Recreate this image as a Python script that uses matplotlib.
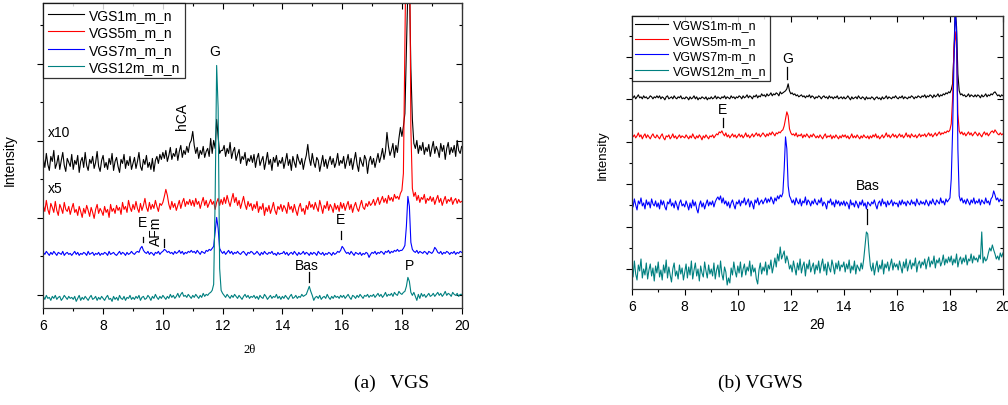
import numpy as np
import matplotlib.pyplot as plt

plt.rcParams['font.family'] = ['Liberation Sans', 'DejaVu Sans']

# 2-theta grid, 0.05 deg step (one row below = 1 deg)
theta = np.linspace(6, 20, 281)

# ---- (a) VGS, intensities (arbitrary units) ----
vgs1 = [150,141,155,144,138,152,147,158,140,145,153,139,148,156,143,137,150,146,142,154,
        139,148,144,153,136,147,151,141,156,143,138,149,145,152,140,146,157,142,137,148,
        153,141,146,139,150,144,155,138,147,151,142,136,149,145,154,140,148,143,152,139,
        145,151,140,147,156,142,138,149,144,153,141,146,139,150,137,148,152,145,154,149,
        156,150,158,147,153,161,149,155,152,160,148,157,163,151,158,154,162,156,165,168,
        177,163,155,161,150,158,154,162,151,157,160,152,170,155,168,160,189,172,155,158,
        158,163,152,160,155,166,150,157,161,148,154,159,145,152,149,156,143,150,147,153,
        146,154,141,150,155,143,148,152,139,147,156,144,149,138,151,146,153,142,148,145,
        151,140,147,155,143,149,138,152,146,141,154,148,144,150,139,147,153,164,150,143,
        155,146,141,151,148,137,145,153,142,149,140,147,152,144,150,141,146,155,143,148,
        145,152,140,147,154,143,150,139,148,156,144,137,151,146,142,153,149,135,147,152,
        144,150,141,148,155,146,152,160,149,157,176,162,153,158,165,151,163,156,170,181,
        172,182,195,260,320,330,240,189,165,160,168,155,163,158,166,154,161,157,164,152,
        160,167,155,162,158,151,165,157,163,149,160,166,154,161,156,163,152,168,158,155,
        162]
vgs5 = [103,97,108,99,94,105,101,96,107,98,93,104,100,95,106,99,97,102,94,100,
        105,96,99,93,102,97,91,100,95,103,98,92,101,96,90,99,104,95,100,97,
        93,102,96,99,91,104,97,100,95,103,98,101,94,106,99,102,96,108,101,97,
        104,99,107,100,96,105,98,103,110,101,97,106,99,104,100,108,102,97,105,103,
        106,112,119,113,104,99,107,101,105,98,103,108,100,106,110,102,107,104,109,103,
        108,102,110,104,107,100,106,111,103,108,101,105,109,104,107,99,106,110,103,109,
        104,111,105,113,107,102,109,115,106,111,103,108,100,106,112,104,99,107,102,105,
        98,104,100,107,96,102,99,105,93,101,97,103,95,100,106,98,94,102,99,104,
        97,103,100,95,106,99,102,96,104,98,93,101,105,97,100,94,103,99,107,101,
        104,99,106,101,97,108,102,95,103,100,107,98,104,101,96,105,99,103,97,106,
        100,105,98,103,107,99,104,96,102,106,100,97,103,108,101,99,105,102,107,103,
        105,109,103,107,111,104,108,112,106,110,105,113,108,111,107,114,110,112,109,115,
        118,135,260,400,400,400,180,120,112,116,108,113,106,111,109,114,105,110,108,112,
        107,111,104,109,113,106,110,103,108,112,105,109,107,111,104,108,110,105,109,106,
        107]
vgs7 = [56,54,57,55,53,56,54,57,55,53,56,55,54,57,53,55,56,54,55,53,
        55,57,54,56,53,55,54,56,55,53,57,54,55,56,53,55,54,56,53,55,
        54,56,55,53,57,54,55,56,54,53,55,57,54,56,55,53,56,54,55,57,
        55,54,56,57,56,60,62,58,56,55,57,54,56,55,53,56,55,57,54,56,
        57,59,58,56,57,55,56,54,57,55,56,58,55,57,54,56,55,57,56,58,
        56,57,55,58,56,54,57,56,55,58,57,59,58,60,62,76,91,80,60,57,
        55,57,54,56,58,55,57,54,56,55,57,55,54,56,57,55,53,56,55,57,
        56,54,55,57,55,53,56,54,57,55,54,56,55,57,54,55,53,56,54,55,
        55,57,54,56,53,55,56,54,57,55,53,56,54,55,57,54,56,55,53,56,
        54,56,55,53,57,55,54,56,53,55,54,56,55,53,56,54,55,57,56,58,
        62,60,57,55,56,54,57,55,53,56,55,54,56,53,55,54,56,55,51,54,
        56,55,57,54,56,55,57,56,54,57,56,58,55,57,56,58,57,59,57,58,
        58,60,63,82,112,102,66,59,57,56,58,55,57,56,55,57,56,54,57,56,
        55,57,61,59,56,55,57,54,56,55,57,56,54,56,55,57,54,56,55,57,
        56]
vgs12 = [12,9,13,10,11,8,12,10,13,9,11,12,8,10,13,11,9,12,10,11,
         9,12,7,10,13,8,11,9,12,10,8,11,13,9,10,12,8,11,9,12,
         10,8,11,13,9,10,7,12,9,11,8,13,10,9,12,8,11,10,13,9,
         11,9,12,10,13,8,11,12,9,10,13,11,8,12,10,14,11,9,12,10,
         13,11,9,12,10,14,11,13,10,12,15,11,14,16,12,13,11,14,12,10,
         13,11,14,12,10,13,11,15,12,14,13,15,16,18,24,110,243,200,40,18,
         15,13,11,14,12,10,13,11,14,12,10,13,11,9,12,14,11,13,10,12,
         11,13,10,12,9,13,11,10,14,12,9,11,13,10,12,11,14,10,12,9,
         12,10,13,11,9,12,14,10,11,13,10,12,11,14,12,13,14,18,22,17,
         13,8,11,12,10,13,9,11,12,10,14,11,9,12,10,13,11,12,10,13,
         11,13,10,12,14,11,9,13,12,10,13,11,14,12,10,13,12,14,11,13,
         12,14,11,13,15,12,14,11,13,16,12,14,13,15,12,16,14,13,17,15,
         14,16,17,22,31,27,16,13,16,12,8,14,10,15,12,14,11,13,15,12,
         13,15,12,14,16,13,15,12,14,17,13,15,14,12,16,14,13,15,12,14,
         14]

# ---- (b) VGWS ----
vgws1 = [192,191,193,190,192,194,191,192,190,193,191,192,190,191,193,192,190,192,191,193,
         191,193,190,192,191,189,192,193,190,191,192,190,193,191,190,192,191,193,190,191,
         190,192,191,189,192,190,191,193,190,192,189,191,190,192,191,190,192,189,191,190,
         192,190,191,193,190,192,191,190,192,191,193,190,192,191,190,193,191,192,190,192,
         191,193,192,190,193,191,192,194,191,193,192,190,193,192,194,191,193,192,195,193,
         194,192,195,193,194,196,193,195,194,196,195,193,197,195,196,197,198,200,205,198,
         195,196,194,195,193,194,192,193,194,192,193,191,193,192,194,191,193,192,190,192,
         191,193,192,190,192,193,191,192,190,193,191,192,190,192,191,193,190,191,192,190,
         192,190,191,193,191,189,192,190,191,192,190,193,191,190,192,191,189,192,190,191,
         190,192,191,189,191,192,190,191,189,192,190,191,193,190,192,191,190,192,191,193,
         191,190,192,191,193,190,192,191,190,192,191,193,192,190,192,191,193,192,191,193,
         192,194,191,193,192,194,193,191,194,192,193,195,192,194,193,195,194,196,195,197,
         196,199,205,235,280,262,215,198,194,195,193,194,192,193,195,192,194,193,192,194,
         192,194,193,191,194,192,193,195,192,194,193,195,194,196,197,195,193,194,192,194,
         193]
vgws5 = [155,152,154,151,153,156,152,154,150,153,155,151,154,152,150,153,155,152,151,154,
         152,150,153,155,151,149,153,152,154,150,152,155,151,153,150,152,154,151,153,152,
         151,154,152,150,153,151,155,152,150,153,151,154,152,149,153,151,154,152,150,153,
         152,154,151,153,155,154,157,156,158,155,153,156,152,154,151,153,155,152,154,151,
         153,155,152,154,151,153,156,152,154,151,153,155,152,154,156,153,155,152,154,156,
         154,152,155,153,156,154,157,155,153,156,155,157,156,158,159,163,170,177,173,160,
         156,154,155,153,156,152,154,153,155,151,154,152,155,153,151,154,152,155,153,151,
         153,151,154,152,150,153,155,151,153,152,154,150,153,151,154,152,150,153,151,154,
         152,154,151,153,150,152,155,151,153,151,154,152,150,153,151,154,152,151,153,150,
         153,151,154,152,155,151,153,150,152,154,151,153,156,152,154,151,153,155,152,154,
         151,153,155,152,154,151,153,156,152,154,151,155,153,152,154,151,153,155,152,154,
         153,155,152,154,156,153,155,152,154,156,153,155,157,154,156,155,157,156,158,157,
         159,165,190,240,257,240,175,158,155,157,154,156,153,155,157,154,156,153,155,157,
         155,153,156,154,152,155,157,154,156,153,155,157,158,156,159,157,155,154,156,154,
         155]
vgws7 = [87,82,90,84,79,88,85,91,83,86,80,89,84,87,81,90,85,83,88,82,
         86,80,89,84,88,82,79,87,85,90,83,86,81,88,84,79,86,89,83,85,
         82,88,84,79,86,81,89,83,87,80,76,84,88,82,86,80,85,89,83,87,
         84,88,82,87,90,92,89,93,86,91,85,88,83,87,81,86,89,84,80,87,
         85,89,83,88,86,91,84,87,90,82,88,85,80,89,86,91,84,87,89,85,
         88,91,86,90,87,92,89,85,91,88,93,90,94,92,96,120,152,140,103,93,
         90,86,89,84,91,87,85,90,83,88,86,92,84,89,87,83,88,85,90,86,
         84,89,86,91,83,87,85,80,88,86,90,84,87,82,89,85,88,83,87,84,
         88,83,87,85,80,89,84,86,82,88,85,81,87,84,89,83,86,80,87,85,
         83,87,85,89,84,80,86,88,83,90,85,87,82,88,84,86,89,83,87,85,
         86,82,88,84,89,85,87,83,88,86,84,89,85,87,83,90,86,84,88,85,
         87,84,89,86,83,88,85,90,86,84,89,87,85,91,86,88,84,90,87,89,
         91,110,157,223,280,257,140,93,88,91,86,89,85,90,87,84,89,86,91,85,
         88,86,90,84,89,87,85,91,86,88,84,90,92,98,94,89,91,87,90,88,
         89]
vgws12 = [22,12,28,15,9,24,18,30,11,20,14,26,10,19,25,13,21,8,23,16,
          27,12,19,9,24,16,29,11,22,14,7,20,26,13,18,10,24,15,21,9,
          17,25,11,22,14,28,10,19,26,13,20,8,23,16,12,27,18,11,24,15,
          20,13,26,10,19,24,12,28,15,9,22,17,4,11,6,21,14,27,18,12,
          23,16,27,12,20,25,14,22,18,28,13,24,17,21,10,5,19,26,15,22,
          18,27,14,24,20,29,16,23,31,22,35,28,42,30,34,38,26,33,28,20,
          24,17,28,21,14,26,19,30,16,23,27,13,25,20,29,17,22,26,15,24,
          19,28,16,24,30,18,25,14,27,21,17,29,23,15,26,20,28,18,24,22,
          27,17,25,20,29,16,23,19,28,15,24,21,18,26,20,30,43,57,55,37,
          23,18,26,14,22,28,17,24,20,29,15,25,21,27,18,24,30,19,26,22,
          25,19,28,22,16,27,21,30,18,24,29,20,26,23,31,17,25,28,21,27,
          24,30,20,27,32,22,28,25,33,21,29,26,31,23,27,34,24,30,26,32,
          27,33,24,30,26,35,22,29,32,25,31,27,34,24,30,28,35,26,33,29,
          31,27,34,30,57,26,32,28,30,36,41,38,44,39,35,30,33,29,36,32,
          36]

labels_a = ['VGS1m_m_n', 'VGS5m_m_n', 'VGS7m_m_n', 'VGS12m_m_n']
labels_b = ['VGWS1m-m_n', 'VGWS5m-m_n', 'VGWS7m-m_n', 'VGWS12m_m_n']
colors = ['black', '#ff0000', '#0000ff', '#008080']

# peak labels: (text, x, y, rotation) and tick marks (x, y0, y1)
notes_a = [('x10', 6.15, 176, 0), ('x5', 6.15, 120, 0), ('hCA', 10.64, 193, 90),
           ('G', 11.75, 257, 0), ('E', 9.33, 86, 0), ('AFm', 9.78, 78, 90),
           ('E', 15.93, 89, 0), ('Bas', 14.83, 43, 0), ('P', 18.24, 43, 0)]
marks_a = [(9.33, 66, 71), (10.04, 61, 69), (15.96, 69, 77), (14.9, 26, 36)]
notes_b = [('G', 11.87, 231, 0), ('E', 9.43, 180, 0), ('Bas', 14.92, 104, 0)]
marks_b = [(11.87, 210, 222), (9.43, 162, 171), (14.88, 65, 80)]

fig = plt.figure(figsize=(10.08, 4.06), dpi=100)
ax1 = fig.add_axes([0.043, 0.238, 0.415, 0.751])
ax2 = fig.add_axes([0.6267, 0.2857, 0.3683, 0.673])


def style(ax, ymax, ystep, yfirst, notes, marks):
    ax.set_xlim(6, 20)
    ax.set_ylim(0, ymax)
    ax.set_xticks(np.arange(6, 21, 2))
    ax.set_xticks(np.arange(7, 20, 2), minor=True)
    ax.set_yticks(np.arange(yfirst, ymax, ystep))
    ax.set_yticks(np.arange(yfirst + ystep / 2, ymax, ystep), minor=True)
    ax.set_yticklabels([])
    ax.tick_params(which='major', length=4, labelsize=10, width=0.8, pad=3)
    ax.tick_params(which='minor', length=2.5, width=0.8)
    for s in ax.spines.values():
        s.set_linewidth(0.9)
        s.set_color('#333333')
    top = ax.secondary_xaxis('top')
    top.set_xticks(np.arange(6, 21, 2))
    top.set_xticks(np.arange(7, 20, 2), minor=True)
    top.tick_params(which='both', direction='in', labeltop=False, width=0.8)
    top.tick_params(which='major', length=4)
    top.tick_params(which='minor', length=2.5)
    right = ax.secondary_yaxis('right')
    right.set_yticks(np.arange(yfirst, ymax, ystep))
    right.set_yticks(np.arange(yfirst + ystep / 2, ymax, ystep), minor=True)
    right.tick_params(which='both', direction='in', labelright=False, width=0.8)
    right.tick_params(which='major', length=4)
    right.tick_params(which='minor', length=2.5)
    for t, x, y, r in notes:
        ax.text(x, y, t, fontsize=10, rotation=r, ha='left' if t.startswith('x') else 'center',
                va='center')
    for x, y0, y1 in marks:
        ax.plot([x, x], [y0, y1], color='black', lw=0.9)


for y, lab, c in zip([vgs1, vgs5, vgs7, vgs12], labels_a, colors):
    ax1.plot(theta, y, color=c, lw=0.8, label=lab)
style(ax1, 305, 77, 13.5, notes_a, marks_a)
leg = ax1.legend(loc='upper left', fontsize=10, frameon=True, fancybox=False,
                 borderaxespad=0, handlelength=2.6, labelspacing=0.25,
                 borderpad=0.3, handletextpad=0.4)
leg.get_frame().set_edgecolor('black')
leg.get_frame().set_linewidth(0.9)

for y, lab, c in zip([vgws1, vgws5, vgws7, vgws12], labels_b, colors):
    ax2.plot(theta, y, color=c, lw=0.8, label=lab)
style(ax2, 273, 42.4, 20, notes_b, marks_b)
leg = ax2.legend(loc='upper left', fontsize=9, frameon=True, fancybox=False,
                 borderaxespad=0, handlelength=2.6, labelspacing=0.25,
                 borderpad=0.3, handletextpad=0.4)
leg.get_frame().set_edgecolor('black')
leg.get_frame().set_linewidth(0.9)

fig.text(10 / 1008, 1 - 160 / 406, 'Intensity', rotation=90, fontsize=10,
         ha='center', va='center')
fig.text(603 / 1008, 1 - 155 / 406, 'Intensity', rotation=90, fontsize=9.5,
         ha='center', va='center')
fig.text(250 / 1008, 1 - 350 / 406, '2θ', fontsize=9, family='Liberation Serif',
         ha='center', va='center')
fig.text(817 / 1008, 1 - 325 / 406, '2θ', fontsize=10, ha='center', va='center')
fig.text(392 / 1008, 1 - 383 / 406, '(a)   VGS', fontsize=14, family='Liberation Serif',
         ha='center', va='center')
fig.text(760 / 1008, 1 - 383 / 406, '(b) VGWS', fontsize=14, family='Liberation Serif',
         ha='center', va='center')

fig.savefig('out.png', dpi=100)
